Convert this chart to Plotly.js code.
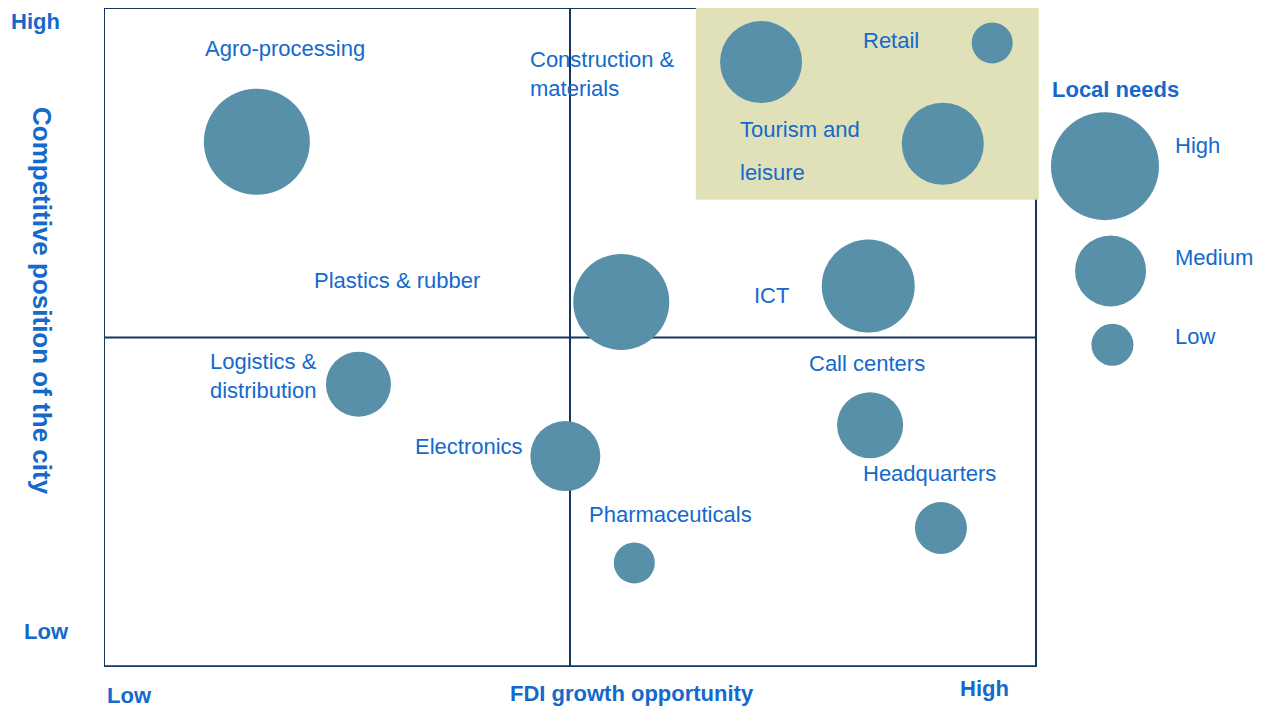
<!DOCTYPE html>
<html>
<head>
<meta charset="utf-8">
<script src="https://cdn.plot.ly/plotly-3.0.1.min.js"></script>
<style>html,body{margin:0;padding:0;background:#fff;}#chart{width:1266px;height:707px;}</style>
</head>
<body>
<div id="chart"></div>
<script>
// Sectors: FDI growth opportunity (x, 0-10), competitive position of the city (y, 0-10), local needs (bubble diameter)
const sectors = ["Agro-processing", "Construction & materials", "Retail", "Tourism and leisure",
  "Plastics & rubber", "ICT", "Logistics & distribution", "Electronics", "Call centers",
  "Headquarters", "Pharmaceuticals"];
const fdiGrowth = [1.64, 7.05, 9.53, 9.00, 5.55, 8.20, 2.73, 4.95, 8.22, 8.98, 5.69];
const competitivePosition = [7.97, 9.18, 9.47, 7.94, 5.54, 5.78, 4.29, 3.20, 3.67, 2.11, 1.58];
const localNeeds = [106, 82, 41, 82, 96, 93, 65, 70, 66, 52, 41];

// Legend of bubble sizes
const legendLabels = ["High", "Medium", "Low"];
const legendNeeds = [108, 71, 42];

const TEXT = "#1469cc";
const BUBBLE = "#5790a8";
const FRAME = "#14365f";
const FONT = "Liberation Sans, Arial, sans-serif";

const traces = [
  {
    type: "scatter", mode: "markers", x: fdiGrowth, y: competitivePosition, text: sectors,
    hoverinfo: "text", cliponaxis: false,
    marker: {size: localNeeds, sizemode: "diameter", color: BUBBLE, line: {width: 0}, opacity: 1}
  },
  {
    type: "scatter", mode: "markers", x: [10.74, 10.80, 10.82], y: [7.60, 6.01, 4.89], text: legendLabels,
    hoverinfo: "text", cliponaxis: false,
    marker: {size: legendNeeds, sizemode: "diameter", color: BUBBLE, line: {width: 0}, opacity: 1}
  }
];

function lab(text, x, y, opts) {
  return Object.assign({text: text, x: x, y: y, xref: "x", yref: "y", showarrow: false,
    xanchor: "left", yanchor: "middle", align: "left",
    font: {family: FONT, size: 22, color: TEXT}}, opts || {});
}
function plab(text, px, py, opts) {
  return Object.assign({text: "<b>" + text + "</b>", x: (px - 104) / 1162, y: (667 - py) / 659,
    xref: "paper", yref: "paper", showarrow: false, xanchor: "center", yanchor: "middle",
    font: {family: FONT, size: 22, color: TEXT}}, opts || {});
}

const annotations = [
  lab("Agro-processing", 1.06, 9.39),
  lab("Construction &<br>materials", 4.55, 9.00),
  lab("Retail", 8.12, 9.51),
  lab("Tourism and", 6.80, 8.15),
  lab("leisure", 6.80, 7.51),
  lab("Plastics & rubber", 2.23, 5.86),
  lab("ICT", 6.95, 5.64),
  lab("Logistics &<br>distribution", 1.12, 4.42),
  lab("Electronics", 3.32, 3.35),
  lab("Call centers", 7.54, 4.61),
  lab("Headquarters", 8.12, 2.94),
  lab("Pharmaceuticals", 5.18, 2.31),
  lab("High", 11.47, 7.92),
  lab("Medium", 11.47, 6.22),
  lab("Low", 11.47, 5.02),
  lab("<b>Local needs</b>", 10.15, 8.77),
  plab("High", 35, 22),
  plab("Low", 47, 631),
  plab("Low", 129, 695),
  plab("FDI growth opportunity", 632, 693),
  plab("High", 984, 688),
  plab("Competitive position of the city", 42, 301, {textangle: 90, font: {family: FONT, size: 26, color: TEXT}})
];

const line = (x0, y0, x1, y1, w) => ({type: "line", xref: "x", yref: "y", x0: x0, y0: y0, x1: x1, y1: y1,
  layer: "below", line: {color: FRAME, width: w}});

const shapes = [
  line(0, 10, 10, 10, 2),
  line(0, 0, 0, 10, 2),
  line(10, 0, 10, 10, 2),
  line(5, 0, 5, 10, 2),
  line(0, 5, 10, 5, 2),
  line(0, 0, 10, 0, 3.5),
  {type: "rect", xref: "x", yref: "y", x0: 6.35, x1: 10.03, y0: 7.09, y1: 10.02, layer: "below",
    fillcolor: "#e0e1b9", line: {width: 0}}
];

const layout = {
  width: 1266, height: 707,
  margin: {l: 104, r: 0, t: 8, b: 40},
  paper_bgcolor: "#ffffff", plot_bgcolor: "#ffffff",
  showlegend: false,
  xaxis: {range: [0, 1162 / 93.2], visible: false, fixedrange: true},
  yaxis: {range: [0, 10], visible: false, fixedrange: true},
  shapes: shapes,
  annotations: annotations,
  font: {family: FONT}
};

Plotly.newPlot("chart", traces, layout, {displayModeBar: false, staticPlot: true});
</script>
</body>
</html>
